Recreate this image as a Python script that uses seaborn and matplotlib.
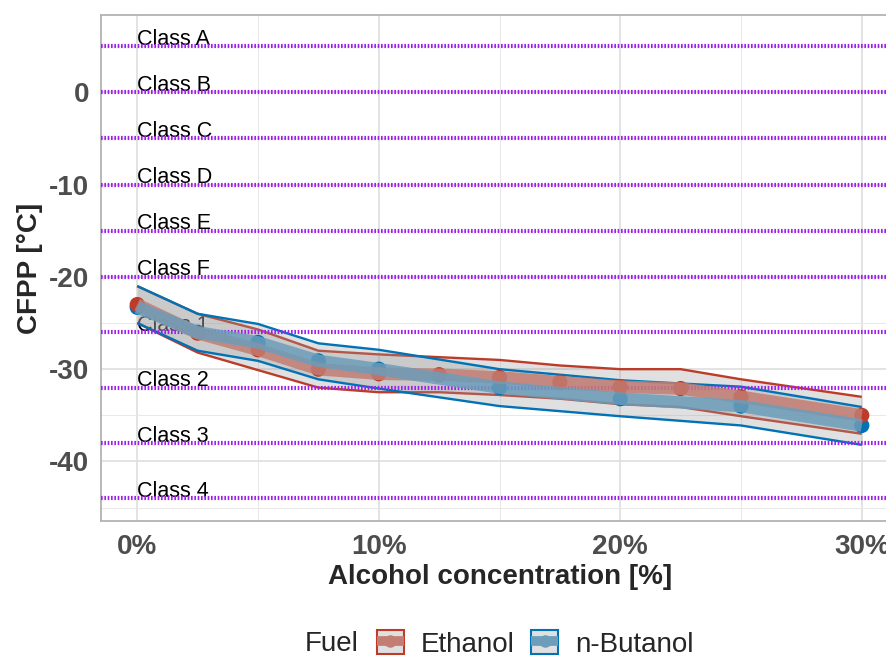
import matplotlib
matplotlib.use("Agg")
import matplotlib.pyplot as plt
import pandas as pd
import seaborn as sns
from matplotlib.patches import Patch
from matplotlib.lines import Line2D

# ---- data -------------------------------------------------------------
conc_ethanol = [0, 2.5, 5, 7.5, 10, 12.5, 15, 17.5, 20, 22.5, 25, 30]
cfpp_ethanol = [-23.0, -26.1, -27.9, -30.0, -30.5, -30.6, -30.9, -31.4, -31.9, -32.1, -33.0, -35.0]
upper_ethanol = [-21.0, -24.0, -25.7, -28.0, -28.4, -28.7, -29.0, -29.6, -30.0, -30.0, -31.1, -33.0]
lower_ethanol = [-25.0, -28.2, -30.1, -32.0, -32.5, -32.5, -32.8, -33.2, -33.8, -34.1, -35.1, -37.0]

conc_butanol = [0, 2.5, 5, 7.5, 10, 15, 20, 25, 30]
cfpp_butanol = [-23.3, -26.0, -27.1, -29.1, -30.0, -32.0, -33.2, -34.0, -36.1]
upper_butanol = [-21.0, -24.0, -25.1, -27.2, -27.9, -30.0, -31.2, -31.9, -34.1]
lower_butanol = [-25.0, -28.0, -29.1, -31.1, -32.1, -34.0, -35.1, -36.1, -38.2]

fuels = ["Ethanol", "n-Butanol"]
fuel_colors = ["#BC3C29", "#0072B5"]
trend_colors = ["#C27E73", "#6C9DBA"]

class_limits = [5, 0, -5, -10, -15, -20, -26, -32, -38, -44]
class_names = ["Class A", "Class B", "Class C", "Class D", "Class E", "Class F",
               "Class 1", "Class 2", "Class 3", "Class 4"]

x_ticks = [0, 10, 20, 30]
x_ticklabels = ["0%", "10%", "20%", "30%"]
y_ticks = [-40, -30, -20, -10, 0]

# ---- tidy frame -------------------------------------------------------
df = pd.concat([
    pd.DataFrame({"Fuel": "Ethanol", "conc": conc_ethanol, "cfpp": cfpp_ethanol,
                  "upper": upper_ethanol, "lower": lower_ethanol}),
    pd.DataFrame({"Fuel": "n-Butanol", "conc": conc_butanol, "cfpp": cfpp_butanol,
                  "upper": upper_butanol, "lower": lower_butanol}),
], ignore_index=True)
palette = dict(zip(fuels, fuel_colors))
trend_palette = dict(zip(fuels, trend_colors))

# ---- style ------------------------------------------------------------
sns.set_style("white")
plt.rcParams["font.family"] = ["Liberation Sans", "DejaVu Sans"]
plt.rcParams["axes.unicode_minus"] = False
plt.rcParams["lines.solid_capstyle"] = "butt"

fig = plt.figure(figsize=(8.86, 6.58), dpi=100)
ax = fig.add_axes([101 / 886, 1 - 521 / 658, (898 - 101) / 886, (521 - 15) / 658])
ax.set_xlim(-1.5, 31.5)
ax.set_ylim(-46.45, 8.37)

# grid
ax.set_xticks(x_ticks)
ax.set_xticks([5, 15, 25], minor=True)
ax.set_yticks(y_ticks)
ax.set_yticks([-45, -35, -25, -15, -5, 5], minor=True)
ax.grid(which="major", color="#DEDEDE", lw=1.2, zorder=0)
ax.grid(which="minor", color="#E8E8E8", lw=0.7, zorder=0)
ax.set_axisbelow(True)
for sp in ax.spines.values():
    sp.set_color("#B3B3B3")
    sp.set_linewidth(1.3)
ax.tick_params(which="major", length=4, width=1, color="#B3B3B3",
               labelsize=20, labelcolor="#4D4D4D")
ax.tick_params(axis="y", pad=4.5)
ax.tick_params(axis="x", pad=5.5)
ax.tick_params(which="minor", length=0)
ax.set_xticklabels(x_ticklabels, fontweight="bold")
ax.set_yticklabels([str(v) for v in y_ticks], fontweight="bold")

# class labels (under the ribbons)
for v, name in zip(class_limits, class_names):
    ax.text(0, v + 0.15, name, ha="left", va="baseline", fontsize=15.5,
            color="black", zorder=1.5)

# ribbons with coloured borders, one fuel after the other
for i, fuel in enumerate(fuels):
    sub = df[df["Fuel"] == fuel]
    ax.fill_between(sub["conc"], sub["lower"], sub["upper"], color="#999999",
                    alpha=0.3, lw=0, zorder=2 + i * 0.2)
    for col in ("upper", "lower"):
        ax.plot(sub["conc"], sub[col], color=palette[fuel], lw=1.7,
                zorder=2.1 + i * 0.2)

# class limit lines
for v in class_limits:
    ax.axhline(v, color="#A020F0", lw=3.0, ls=(0, (0.4, 0.4)), zorder=2.6)

# points and thick mean lines
pts = pd.concat([df[df["Fuel"] == "n-Butanol"], df[df["Fuel"] == "Ethanol"]])
sns.scatterplot(data=pts, x="conc", y="cfpp", hue="Fuel", hue_order=fuels,
                palette=palette, s=120, linewidth=0, legend=False, ax=ax,
                zorder=3)
sns.lineplot(data=df, x="conc", y="cfpp", hue="Fuel", hue_order=fuels,
             palette=trend_palette, linewidth=9, alpha=0.85, estimator=None,
             legend=False, ax=ax, zorder=4)
ax.set_xlabel("")
ax.set_ylabel("")

# axis titles
fig.text(500 / 886, 1 - 577 / 658, "Alcohol concentration [%]", ha="center",
         va="center", fontsize=20, fontweight="bold")
fig.text(30 / 886, 1 - 268 / 658, "CFPP [°C]", ha="center", va="center",
         rotation=90, fontsize=20, fontweight="bold")

# legend
handles = []
for fuel in fuels:
    box = Patch(facecolor="#E0E0E0", edgecolor=palette[fuel], lw=1.5)
    line = Line2D([], [], color=trend_palette[fuel], lw=7, marker="o", ms=9,
                  markeredgewidth=0)
    handles.append((box, line))
fig.text(305 / 886, 1 - 644 / 658, "Fuel", ha="left", va="center", fontsize=20)
fig.legend(handles, fuels, loc="center left",
           bbox_to_anchor=(377 / 886, 1 - 644 / 658), ncol=2, frameon=False,
           fontsize=20, handlelength=0.97, handleheight=0.97,
           handletextpad=0.6, columnspacing=0.6, borderpad=0,
           borderaxespad=0)

fig.savefig("out.png", dpi=100)
